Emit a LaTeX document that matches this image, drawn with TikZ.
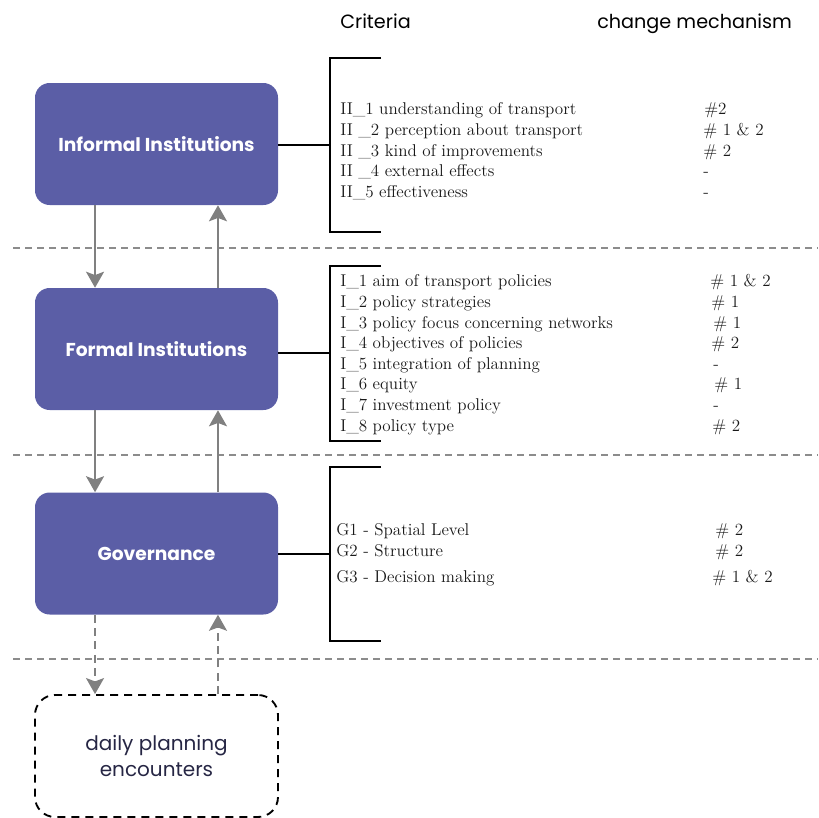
\documentclass[tikz,border=0pt]{standalone}
\usepackage{fontspec}
\setsansfont{Poppins}
\usetikzlibrary{arrows.meta}

\definecolor{boxfill}{RGB}{91,94,166}
\definecolor{flowgray}{RGB}{128,128,128}
\definecolor{sepgray}{RGB}{140,140,140}
\definecolor{navytext}{RGB}{38,38,68}
\definecolor{listtext}{RGB}{25,25,25}

\begin{document}
\begin{tikzpicture}[x=0.75pt,y=-0.75pt,
  levelbox/.style={fill=boxfill, rounded corners=11pt, minimum width=182.25pt,
    minimum height=91.5pt, inner sep=0pt, text=white,
    font=\sffamily\bfseries\fontsize{14}{16}\selectfont},
  localbox/.style={draw=black, line width=1.4pt, dash pattern=on 6pt off 4.5pt,
    rounded corners=15pt, minimum width=182.25pt, minimum height=91.5pt,
    inner sep=0pt, text=navytext, align=center,
    font=\sffamily\fontsize{15}{20}\selectfont},
  flow/.style={draw=flowgray, line width=1.5pt,
    -{Stealth[length=12pt,width=13.5pt,inset=2.5pt]}},
  dflow/.style={flow, dash pattern=on 6pt off 4pt},
  separator/.style={draw=sepgray, line width=1.1pt, dash pattern=on 5pt off 4pt},
  bracket/.style={draw=black, line width=1.4pt},
  header/.style={anchor=base west, inner sep=0pt, text=black,
    font=\sffamily\fontsize{14.4}{16}\selectfont},
  item/.style={anchor=base west, inner sep=0pt, text=listtext,
    font=\fontsize{12.8}{14}\selectfont},
]
\useasboundingbox (0,0) rectangle (818,818);

% column headers
\node[header] (hcrit) at (340,28) {Criteria};
\node[header] (hmech) at (597,28) {change mechanism};

% level separators
\draw[separator] (13,248) -- (818,248);
\draw[separator] (13,455) -- (818,455);
\draw[separator] (13,659) -- (818,659);

% levels
\node[levelbox] (inf)  at (156.5,144)   {Informal Institutions};
\node[levelbox] (form) at (156.5,349)   {Formal Institutions};
\node[levelbox] (gov)  at (156.5,553.5) {Governance};
\node[localbox] (daily) at (156.5,756)  {daily planning\\encounters};

% flows between levels
\draw[flow]  ([xshift=-46.1pt]inf.south)  -- ([xshift=-46.1pt]form.north);
\draw[flow]  ([xshift=46.1pt]form.north)  -- ([xshift=46.1pt]inf.south);
\draw[flow]  ([xshift=-46.1pt]form.south) -- ([xshift=-46.1pt]gov.north);
\draw[flow]  ([xshift=46.1pt]gov.north)   -- ([xshift=46.1pt]form.south);
\draw[dflow] ([xshift=-46.1pt]gov.south)  -- ([xshift=-46.1pt]daily.north);
\draw[dflow] ([xshift=46.1pt]daily.north) -- ([xshift=46.1pt]gov.south);

% brackets grouping the criteria
\coordinate (b1) at (330,145);
\coordinate (b2) at (330,353);
\coordinate (b3) at (330,554);
\draw[bracket] (381,58) -- (330,58) -- (330,232) -- (381,232);
\draw[bracket] (381,266) -- (330,266) -- (330,441) -- (381,441);
\draw[bracket] (381,467) -- (330,467) -- (330,641) -- (381,641);
\draw[bracket] (inf.east |- b1) -- (b1);
\draw[bracket] (form.east |- b2) -- (b2);
\draw[bracket] (gov.east |- b3) -- (b3);

% informal institutions criteria
\node[item] (ii1) at (340,114) {II\_1 understanding of transport};
\node[item] (ii2) at (340,135) {II \_2 perception about transport};
\node[item] (ii3) at (340,156) {II \_3 kind of improvements};
\node[item] (ii4) at (340,176) {II \_4 external effects};
\node[item] (ii5) at (340,197) {II\_5 effectiveness};
\node[item] (mi1) at (704,114) {\#2};
\node[item] (mi2) at (703,135) {\# 1 \& 2};
\node[item] (mi3) at (703,156) {\# 2};
\node[item] (mi4) at (703,176) {-};
\node[item] (mi5) at (703,197) {-};

% formal institutions criteria
\node[item] (i1) at (340,286) {I\_1 aim of transport policies};
\node[item] (i2) at (340,307) {I\_2 policy strategies};
\node[item] (i3) at (340,328) {I\_3 policy focus concerning networks};
\node[item] (i4) at (340,348) {I\_4 objectives of policies};
\node[item] (i5) at (340,369) {I\_5 integration of planning};
\node[item] (i6) at (340,389) {I\_6 equity};
\node[item] (i7) at (340,410) {I\_7 investment policy};
\node[item] (i8) at (340,431) {I\_8 policy type};
\node[item] (mf1) at (710,286) {\# 1 \& 2};
\node[item] (mf2) at (711,307) {\# 1};
\node[item] (mf3) at (713,328) {\# 1};
\node[item] (mf4) at (711,348) {\# 2};
\node[item] (mf5) at (713,369) {-};
\node[item] (mf6) at (714,389) {\# 1};
\node[item] (mf7) at (713,410) {-};
\node[item] (mf8) at (712,431) {\# 2};

% governance criteria
\node[item] (g1) at (336,535) {G1 - Spatial Level};
\node[item] (g2) at (336,556) {G2 - Structure};
\node[item] (g3) at (336,582) {G3 - Decision making};
\node[item] (mg1) at (715,535) {\# 2};
\node[item] (mg2) at (715,556) {\# 2};
\node[item] (mg3) at (712,582) {\# 1 \& 2};
\end{tikzpicture}
\end{document}
